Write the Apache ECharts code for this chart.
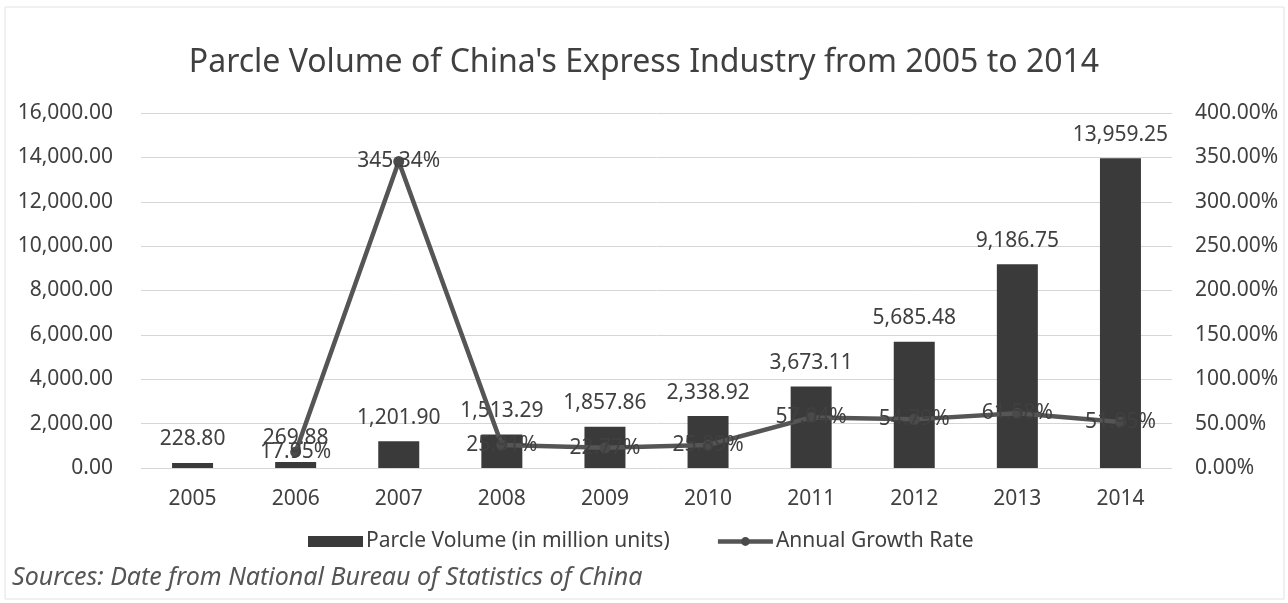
<!DOCTYPE html>
<html>
<head>
<meta charset="utf-8">
<style>
  html, body { margin: 0; padding: 0; background: #fff; }
  #chart { width: 1288px; height: 603px; }
</style>
<script src="https://cdn.jsdelivr.net/npm/echarts@6/dist/echarts.min.js"></script>
</head>
<body>
<div id="chart"></div>
<script>
// Years on the category axis
const years = ['2005', '2006', '2007', '2008', '2009', '2010', '2011', '2012', '2013', '2014'];
// Parcel volume, million units
const parcelVolume = [228.80, 269.88, 1201.90, 1513.29, 1857.86, 2338.92, 3673.11, 5685.48, 9186.75, 13959.25];
// Year-on-year growth rate, percent (no value for the first year)
const growthRate = [null, 17.95, 345.34, 25.91, 22.77, 25.89, 57.04, 54.79, 61.58, 51.95];

const FONT = '"Noto Sans", sans-serif';
const TEXT = '#404040';

function fmtNum(v) {
  return v.toLocaleString('en-US', { minimumFractionDigits: 2, maximumFractionDigits: 2 });
}

const chart = echarts.init(document.getElementById('chart'), null, { renderer: 'canvas' });

chart.setOption({
  animation: false,
  backgroundColor: '#fff',
  textStyle: { fontFamily: FONT, color: TEXT },
  title: {
    text: "Parcle Volume of China's Express Industry from 2005 to 2014",
    left: 'center',
    top: 42,
    textStyle: { fontFamily: FONT, fontSize: 32, fontWeight: 'normal', color: TEXT }
  },
  graphic: [
    {
      type: 'rect',
      shape: { x: 5, y: 7, width: 1279, height: 592 },
      style: { fill: 'none', stroke: '#e2e2e2', lineWidth: 1 },
      silent: true
    },
    {
      type: 'text',
      left: 12,
      top: 565,
      style: {
        text: 'Sources: Date from National Bureau of Statistics of China',
        font: 'italic 25px "Noto Sans", sans-serif',
        fill: '#555'
      }
    }
  ],
  legend: {
    top: 526,
    left: 303,
    itemGap: 46,
    itemWidth: 55,
    itemHeight: 11,
    textStyle: { fontFamily: FONT, fontSize: 21, color: TEXT, padding: [0, 0, 0, -2] },
    data: [
      { name: 'Parcle Volume (in million units)', icon: 'rect' },
      { name: 'Annual Growth Rate', lineStyle: { width: 4.5, color: '#555' } }
    ]
  },
  grid: { left: 141, right: 116, top: 113, bottom: 135 },
  xAxis: {
    type: 'category',
    data: years,
    axisLine: { show: false },
    axisTick: { show: false },
    axisLabel: { fontFamily: FONT, fontSize: 21, color: TEXT, margin: 21 }
  },
  yAxis: [
    {
      type: 'value',
      min: 0,
      max: 16000,
      interval: 2000,
      axisLine: { show: false },
      axisTick: { show: false },
      splitLine: { lineStyle: { color: '#d6d6d6', width: 1 } },
      axisLabel: { fontFamily: FONT, fontSize: 21, color: TEXT, margin: 28, formatter: v => fmtNum(v) }
    },
    {
      type: 'value',
      min: 0,
      max: 400,
      interval: 50,
      axisLine: { show: false },
      axisTick: { show: false },
      splitLine: { show: false },
      axisLabel: { fontFamily: FONT, fontSize: 21, color: TEXT, margin: 23, formatter: v => v.toFixed(2) + '%' }
    }
  ],
  series: [
    {
      name: 'Parcle Volume (in million units)',
      type: 'bar',
      data: parcelVolume,
      barWidth: 41,
      itemStyle: { color: '#3a3a3a' },
      label: {
        show: true,
        position: 'top',
        distance: 13,
        fontFamily: FONT,
        fontSize: 21,
        color: TEXT,
        formatter: p => fmtNum(p.value)
      }
    },
    {
      name: 'Annual Growth Rate',
      type: 'line',
      yAxisIndex: 1,
      data: growthRate,
      symbol: 'circle',
      symbolSize: 11,
      lineStyle: { color: '#555', width: 4.5 },
      itemStyle: { color: '#4a4a4a' },
      label: {
        show: true,
        position: 'inside',
        fontFamily: FONT,
        fontSize: 21,
        color: TEXT,
        formatter: p => p.value == null ? '' : p.value.toFixed(2) + '%'
      },
      z: 3
    }
  ]
});
</script>
</body>
</html>
